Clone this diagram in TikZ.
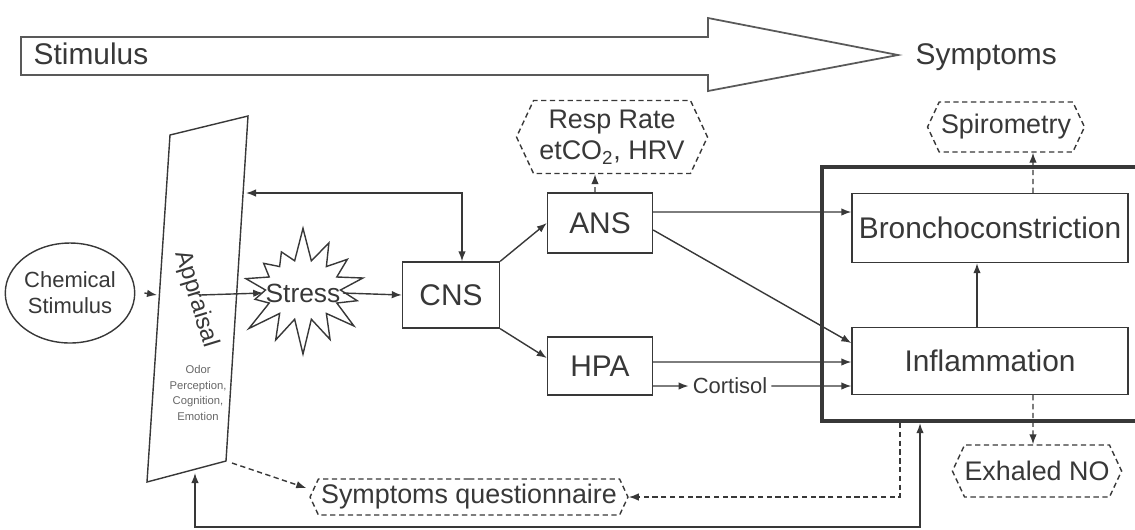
\documentclass[tikz,border=0pt]{standalone}
\usepackage{fontspec}
\setmainfont{Liberation Sans}
\usetikzlibrary{arrows.meta,shapes.geometric,shapes.symbols,fit}

\definecolor{ink}{HTML}{383838}

\begin{document}
\begin{tikzpicture}[x=0.02cm, y=-0.02cm, color=ink, line width=0.8pt,
    >={Latex[length=2mm,width=1.5mm]},
    box/.style={draw, rectangle, inner sep=0pt, font=\fontsize{17}{20}\selectfont},
    hexa/.style={draw, dash pattern=on 3pt off 2pt, signal, signal to=west and east,
        signal pointer angle=130, inner sep=0pt, align=center,
        font=\fontsize{15.3}{18}\selectfont},
    link/.style={->},
    dlink/.style={->, dash pattern=on 3pt off 2pt}]
    \useasboundingbox (0,0) rectangle (1135,529);

    % Stimulus -> symptoms arrow
    \draw[line width=1pt, gray!70!black] (21,37) -- (708,37) -- (708,18) -- (898,55)
        -- (708,91) -- (708,75) -- (21,75) -- cycle;
    \node[anchor=base west, inner sep=0pt, font=\fontsize{17}{20}\selectfont] (stim) at (33,64) {Stimulus};
    \node[anchor=base west, inner sep=0pt, font=\fontsize{17}{20}\selectfont] (symp) at (915,64) {Symptoms};

    % Chemical stimulus
    \node[draw, ellipse, minimum width=2.32cm, minimum height=2cm, inner sep=0pt, align=center,
        font=\fontsize{12.5}{14.7}\selectfont] (chem) at (70,293) {Chemical\\Stimulus};

    % Appraisal
    \coordinate (apTL) at (170,135);
    \coordinate (apTR) at (248,116);
    \coordinate (apBR) at (226,461);
    \coordinate (apBL) at (147,482);
    \draw (apTL) -- (apTR) -- (apBR) -- (apBL) -- cycle;
    \node[rotate=-73, inner sep=1pt, font=\fontsize{13.6}{16}\selectfont] (apname) at (196,299) {Appraisal};
    \node[align=center, inner sep=1pt, text=gray!80!black, font=\fontsize{6.4}{9}\selectfont] (aptext) at (198,393)
        {Odor\\Perception,\\Cognition,\\Emotion};
    \coordinate (apL) at (157,295); % left side
    \coordinate (apIn) at (200,295); % inside
    \coordinate (apR) at (246,193); % right side
    \coordinate (apQ) at (232,463); % lower corner
    \coordinate (apB) at (195,473); % bottom side
    \coordinate (floor) at (0,527);

    % Stress
    \node[draw, starburst, starburst points=14, random starburst=7, starburst point height=0.7cm,
        minimum width=2.9cm, minimum height=2.6cm, inner sep=0pt] (burst) at (303,290) {};
    \node[inner sep=1pt, font=\fontsize{15}{18}\selectfont] (stress) at (303,293) {Stress};

    % Nervous system
    \node[box, minimum width=1.94cm, minimum height=1.32cm] (cns) at (451,295) {CNS};
    \node[box, minimum width=2.1cm, minimum height=1.2cm] (ans) at (600,223) {ANS};
    \node[box, minimum width=2.1cm, minimum height=1.16cm] (hpa) at (600,366) {HPA};
    \node[inner sep=2pt, font=\fontsize{12.5}{15}\selectfont] (cort) at (730,386) {Cortisol};
    \node[hexa, minimum width=3.82cm, minimum height=1.46cm] (resp) at (612,137)
        {Resp Rate\\etCO\textsubscript{2}, HRV};

    % Airways
    \node[box, minimum width=5.52cm, minimum height=1.38cm] (broncho) at (990,228) {Bronchoconstriction};
    \node[box, minimum width=5.52cm, minimum height=1.34cm] (inflam) at (990,361) {Inflammation};
    \node[draw, line width=2.2pt, fit=(broncho)(inflam), inner xsep=0.58cm, inner ysep=0.52cm] (lung) {};
    \node[hexa, minimum width=3.14cm, minimum height=1cm] (spiro) at (1006,127) {Spirometry};
    \node[hexa, minimum width=3.22cm, minimum height=1.04cm] (exno) at (1037,471) {Exhaled NO};
    \node[hexa, minimum width=6.36cm, minimum height=0.72cm] (quest) at (469,497) {Symptoms questionnaire};

    % Connections
    \draw[link] ([xshift=0.18cm]chem.east) -- (apL);
    \draw[link] (apIn) -- (stress.west);
    \draw[link] (stress.east) -- (cns.west);
    \draw[<->] (apR) -| ([xshift=0.22cm]cns.north);
    \draw[link] (cns.north east) -- (ans.west);
    \draw[link] (cns.south east) -- ([yshift=0.16cm]hpa.west);
    \draw[dlink] ([xshift=-0.1cm]ans.north) -- ([xshift=-0.34cm]resp.south);
    \draw[link] ([yshift=0.22cm]ans.east) -- ([yshift=0.32cm]broncho.west);
    \draw[link] ([yshift=-0.14cm]ans.east) -- ([yshift=0.36cm]inflam.west);
    \draw[link] ([yshift=0.08cm]hpa.east) -- ([yshift=-0.02cm]inflam.west);
    \draw[link] ([yshift=-0.4cm]hpa.east) -- (cort.west);
    \draw[link] (cort.east) -- ([yshift=-0.5cm]inflam.west);
    \draw[link] ([xshift=-0.26cm]inflam.north) -- ([xshift=-0.26cm]broncho.south);
    \draw[dlink] ([xshift=0.86cm]broncho.north) -- ([xshift=0.54cm]spiro.south);
    \draw[dlink] ([xshift=0.86cm]inflam.south) -- ([xshift=-0.08cm]exno.north);
    \draw[dlink] (apQ) -- ([shift={(-0.06cm,0.18cm)}]quest.west);
    \draw[dlink] ([xshift=-1.8cm]lung.south) |- (quest.east);
    \draw[<->] (apB) -- (apB |- floor) -| ([xshift=-1.4cm]lung.south);
\end{tikzpicture}
\end{document}
